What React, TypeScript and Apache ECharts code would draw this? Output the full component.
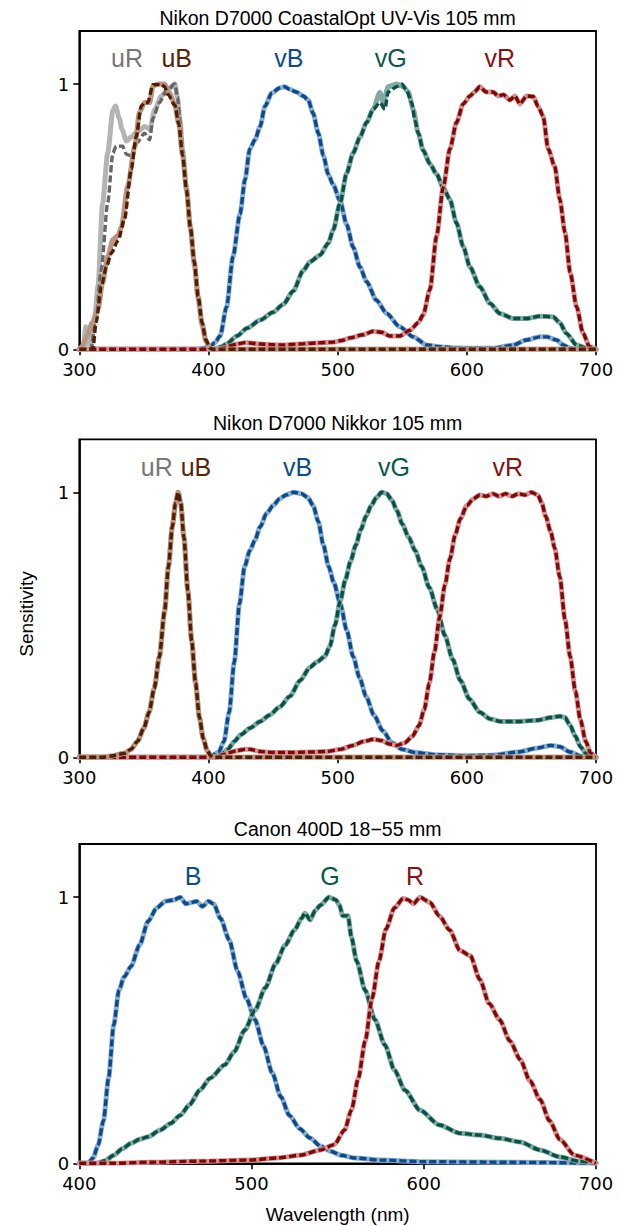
import React, { useEffect, useRef } from "react";
import * as echarts from "echarts";

type Pt = [number, number];

// ---------- Panel titles / axis texts ----------
const panelTitles = [
  "Nikon D7000 CoastalOpt UV-Vis 105 mm",
  "Nikon D7000 Nikkor 105 mm",
  "Canon 400D 18\u221255 mm",
];
const xRanges: [number, number][] = [[300, 700], [300, 700], [400, 700]];
const yTicks = [0, 1];
const yName = "Sensitivity";
const xName = "Wavelength (nm)";

// ---------- Panel 1: CoastalOpt (measured = solid, model = dashed) ----------
const p1_uR_meas: Pt[] = [[300,0],[303,0],[305,0.085],[306.5,0.02],[309,0.02],[312,0.12],[314.5,0.24],[318,0.55],[322,0.74],[326,0.9],[328,0.917],[331,0.87],[333,0.83],[336.5,0.785],[340,0.8],[345,0.82],[350.5,0.84],[354.5,0.83],[358.5,0.905],[363.5,0.955],[368.5,0.98],[374,1.0],[376,0.95],[378,0.86],[380,0.75],[383,0.61],[386,0.46],[389,0.32],[392,0.19],[395,0.09],[398,0.03],[401,0.005],[403,0],[700,0]];
const p1_uR_model: Pt[] = [[300,0],[309,0],[313,0.12],[317,0.3],[322,0.553],[326,0.74],[328.5,0.766],[333.5,0.766],[336.5,0.735],[340,0.73],[345,0.78],[350.5,0.815],[354.5,0.79],[357,0.87],[362,0.93],[367,0.97],[374,1.0],[376,0.95],[378,0.86],[380,0.75],[383,0.61],[386,0.46],[389,0.32],[392,0.19],[395,0.09],[398,0.03],[401,0.005],[403,0],[700,0]];
const p1_uB_meas: Pt[] = [[300,0],[302,0.01],[306,0.05],[310,0.1],[314.5,0.15],[318,0.25],[322,0.35],[326,0.413],[330,0.43],[332.5,0.46],[337.5,0.615],[343,0.766],[346.5,0.892],[350.5,0.93],[354.5,0.93],[357,0.993],[361,1.0],[366,1.0],[370,0.965],[374,0.92],[377,0.85],[380,0.73],[383,0.6],[386,0.46],[389,0.33],[392,0.2],[395,0.1],[398,0.035],[401,0.005],[403,0],[700,0]];
const p1_uB_model: Pt[] = [[300,0],[310.5,0],[313,0.1],[317,0.237],[321,0.31],[324.8,0.363],[330,0.41],[335,0.49],[340.3,0.68],[344,0.8],[348,0.917],[350.6,0.93],[353,0.93],[357,0.998],[363.5,0.998],[366,0.99],[368.7,0.96],[374,0.92],[377,0.85],[380,0.73],[383,0.6],[386,0.46],[389,0.33],[392,0.2],[395,0.1],[398,0.035],[401,0.005],[403,0],[700,0]];
const p1_vB: Pt[] = [[300,0],[390,0],[395,0.003],[401,0.01],[405,0.025],[409,0.05],[414,0.16],[419,0.35],[424.4,0.51],[428.3,0.64],[432,0.755],[436,0.79],[440,0.84],[443.7,0.916],[449,0.966],[455,0.985],[459,0.99],[463,0.98],[468,0.97],[473.4,0.955],[477.2,0.94],[481,0.89],[485,0.815],[489,0.73],[492.7,0.66],[496.6,0.62],[501.8,0.56],[507,0.47],[512,0.385],[517.3,0.31],[522.4,0.255],[530,0.185],[538,0.135],[548,0.085],[558.5,0.047],[569,0.016],[579,0.01],[590,0.005],[600,0.004],[620,0.004],[636,0.016],[646,0.035],[656.6,0.047],[662,0.047],[669.5,0.035],[675,0.015],[680,0.004],[685,0],[700,0]];
const p1_vG_meas: Pt[] = [[300,0],[404,0],[410,0.01],[414,0.02],[422,0.05],[430,0.08],[440,0.11],[450,0.14],[458,0.17],[465.6,0.22],[473.4,0.297],[478.6,0.33],[486.3,0.355],[492.7,0.4],[496.6,0.45],[501.8,0.55],[507,0.665],[512,0.74],[517.3,0.8],[522.4,0.855],[527.5,0.905],[532.7,0.968],[535.3,0.93],[539.1,0.99],[545.7,1.0],[550.9,0.99],[554.7,0.97],[558.5,0.905],[562.4,0.815],[566.2,0.75],[571.4,0.7],[576.6,0.66],[581.7,0.61],[586.9,0.565],[592,0.476],[597.2,0.388],[602.4,0.31],[610,0.236],[618,0.173],[625.6,0.135],[636,0.116],[646,0.116],[656.6,0.125],[667,0.122],[672,0.1],[677,0.06],[685,0.016],[692.7,0.004],[700,0]];
const p1_vG_model: Pt[] = [[300,0],[404,0],[410,0.01],[414,0.02],[422,0.05],[430,0.08],[440,0.11],[450,0.14],[458,0.17],[465.6,0.22],[473.4,0.297],[478.6,0.33],[486.3,0.355],[492.7,0.4],[496.6,0.45],[501.8,0.55],[507,0.665],[512,0.74],[517.3,0.8],[522.4,0.855],[527.5,0.905],[532.7,0.93],[536.6,0.905],[539.1,0.97],[545.7,0.99],[549.6,1.0],[553.5,0.975],[557.3,0.93],[560,0.86],[562.4,0.815],[566.2,0.75],[571.4,0.7],[576.6,0.66],[581.7,0.61],[586.9,0.565],[592,0.476],[597.2,0.388],[602.4,0.31],[610,0.236],[618,0.173],[625.6,0.135],[636,0.116],[646,0.116],[656.6,0.125],[667,0.122],[672,0.1],[677,0.06],[685,0.016],[692.7,0.004],[700,0]];
const p1_vR: Pt[] = [[300,0],[404,0],[410,0.004],[414,0.008],[418,0.015],[422,0.02],[428,0.025],[432,0.024],[440,0.02],[450,0.017],[458,0.016],[470,0.02],[484,0.024],[496.6,0.027],[503,0.033],[509.5,0.043],[519.8,0.055],[527.5,0.068],[534,0.064],[540.5,0.05],[548,0.05],[556,0.072],[562.4,0.1],[566.2,0.13],[571.4,0.225],[576.6,0.427],[581.7,0.61],[586.9,0.755],[592,0.855],[597.2,0.925],[602.4,0.955],[606,0.97],[610,0.99],[615,0.97],[620.4,0.97],[624.3,0.955],[628.2,0.96],[633.3,0.94],[637.2,0.955],[641.1,0.925],[646.3,0.955],[651.4,0.953],[655.3,0.915],[659,0.88],[663,0.755],[668,0.69],[672,0.565],[676,0.44],[680,0.29],[685,0.16],[690,0.06],[695,0.01],[700,0]];

// ---------- Panel 2: Nikkor ----------
const p2_u: Pt[] = [[300,0],[318,0],[325,0.005],[335,0.015],[340,0.03],[345,0.06],[350,0.11],[354,0.17],[358,0.26],[362,0.38],[366,0.55],[369,0.72],[372,0.87],[374.5,0.96],[376.5,1.0],[378.5,0.96],[381,0.83],[384,0.63],[387,0.44],[390,0.28],[393,0.15],[396,0.07],[399,0.025],[402,0.005],[405,0],[700,0]];
const p2_vB: Pt[] = [[300,0],[395,0],[402,0.005],[408,0.02],[412,0.06],[416,0.17],[420,0.36],[424,0.58],[428,0.72],[432,0.78],[436,0.82],[440,0.87],[445,0.92],[450,0.95],[455,0.975],[460,0.99],[466,1.0],[472,0.995],[477,0.98],[481,0.95],[485,0.89],[489,0.8],[493,0.72],[497,0.66],[502,0.58],[507,0.48],[512,0.38],[517,0.3],[522,0.23],[528,0.16],[535,0.1],[542,0.055],[550,0.03],[560,0.018],[575,0.01],[600,0.006],[620,0.008],[640,0.02],[655,0.035],[665,0.045],[672,0.04],[680,0.02],[688,0.005],[695,0],[700,0]];
const p2_vG: Pt[] = [[300,0],[405,0],[410,0.01],[415,0.03],[420,0.06],[425,0.085],[432,0.11],[440,0.135],[447.5,0.16],[455,0.19],[463,0.23],[471,0.29],[478.6,0.34],[484,0.36],[490,0.38],[494,0.42],[498,0.5],[502,0.59],[506,0.67],[510,0.74],[514,0.8],[518,0.86],[522,0.91],[526,0.95],[530,0.98],[534,1.0],[538,0.995],[542,0.97],[546,0.93],[550,0.88],[555,0.83],[560,0.78],[565,0.72],[571,0.64],[577,0.56],[583,0.46],[589,0.37],[595,0.29],[602,0.22],[610,0.17],[618,0.145],[626,0.135],[640,0.135],[655,0.14],[665,0.15],[672,0.155],[676,0.15],[680,0.12],[684,0.08],[688,0.04],[692,0.015],[697,0],[700,0]];
const p2_vR: Pt[] = [[300,0],[405,0],[411,0.01],[416,0.018],[422,0.025],[428,0.03],[432,0.03],[440,0.022],[450,0.018],[465,0.018],[480,0.02],[492,0.022],[502,0.03],[512,0.045],[520,0.06],[528,0.068],[534,0.063],[540,0.05],[546,0.045],[552,0.055],[558,0.08],[563,0.12],[567,0.18],[571,0.28],[575,0.4],[579,0.53],[583,0.65],[587,0.75],[591,0.84],[595,0.9],[600,0.95],[605,0.975],[610,0.99],[615,0.985],[620,0.995],[625,0.985],[630,0.995],[635,0.985],[640,0.995],[645,0.99],[650,1.0],[655,0.99],[658,0.96],[661,0.91],[665,0.85],[668,0.79],[672,0.68],[676,0.52],[680,0.38],[684,0.25],[688,0.14],[692,0.06],[696,0.015],[700,0]];

// ---------- Panel 3: Canon ----------
const p3_B: Pt[] = [[400,0],[405,0],[408,0.02],[411,0.07],[414,0.16],[417,0.32],[420,0.52],[423,0.65],[426,0.7],[430,0.74],[435,0.82],[440,0.91],[445,0.96],[450,0.985],[455,0.99],[458.5,1.0],[462,0.975],[465,0.98],[468,0.985],[471.5,0.965],[475,0.985],[478,0.975],[482,0.92],[487,0.84],[492,0.72],[497,0.62],[502,0.54],[507,0.44],[512,0.34],[517,0.25],[522,0.18],[528,0.13],[534,0.095],[540,0.065],[546,0.045],[552,0.03],[560,0.02],[575,0.012],[600,0.006],[650,0.004],[700,0]];
const p3_G: Pt[] = [[400,0],[410,0],[415,0.01],[420,0.03],[425,0.055],[430,0.075],[435,0.09],[440,0.1],[447,0.125],[453,0.15],[458.5,0.18],[464,0.22],[470,0.275],[476,0.32],[484.5,0.37],[490,0.42],[496,0.5],[502,0.575],[508,0.66],[514,0.75],[519.5,0.82],[525,0.877],[529,0.92],[531,0.94],[534,0.915],[537,0.95],[540,0.97],[545,1.0],[549,0.99],[551,0.97],[553,0.93],[556,0.93],[558,0.85],[561,0.76],[566,0.65],[571.6,0.54],[577.4,0.445],[583,0.35],[589,0.275],[597.8,0.2],[609,0.144],[621,0.113],[632.6,0.106],[644,0.094],[656,0.08],[667.5,0.05],[679,0.024],[690,0.008],[700,0]];
const p3_R: Pt[] = [[400,0],[420,0],[441,0.004],[470,0.008],[499,0.012],[515,0.02],[528,0.03],[540,0.05],[548,0.07],[554,0.125],[558,0.2],[562,0.32],[566,0.46],[570,0.62],[574,0.76],[578,0.88],[583,0.96],[588,0.995],[591,0.99],[594,0.975],[597.8,1.0],[603.6,0.98],[609,0.93],[615,0.877],[621,0.8],[627,0.78],[632.6,0.69],[638,0.6],[644,0.54],[650,0.46],[656,0.39],[661.6,0.31],[667.5,0.24],[673,0.16],[679,0.09],[687.6,0.03],[700,0]];

// ---------- Channel labels (name, wavelength anchor, height anchor) ----------
const p1_labels: [string, number, number][] = [["uR",337,1.1],["uB",375.4,1.1],["vB",462.3,1.1],["vG",541,1.1],["vR",625.6,1.1]];
const p2_labels: [string, number, number][] = [["uR",360,1.095],["uB",390.3,1.095],["vB",468.9,1.095],["vG",543.6,1.095],["vR",631.8,1.095]];
const p3_labels: [string, number, number][] = [["B",466,1.08],["G",545.6,1.08],["R",595,1.08]];

const COLORS: Record<string, { light: string; dark: string; text: string }> = {
  uR: { light: "#b4b4b4", dark: "#666666", text: "#777777" },
  uB: { light: "#b89482", dark: "#561c00", text: "#5a2404" },
  vB: { light: "#8aadd0", dark: "#0a4a8c", text: "#0b4c8c" },
  vG: { light: "#82a9a2", dark: "#065247", text: "#08584d" },
  vR: { light: "#d09494", dark: "#850505", text: "#8a0f0f" },
};
COLORS.B = COLORS.vB;
COLORS.G = COLORS.vG;
COLORS.R = COLORS.vR;

const GRID_LEFT = 79.3;
const GRID_W = 516.7;
const grids = [
  { top: 31, height: 318.3 },
  { top: 439.3, height: 318 },
  { top: 844, height: 319.3 },
];
const FONT_SANS = "Liberation Sans, Arial, sans-serif";

function pairSeries(key: string, meas: Pt[], model: Pt[], idx: number) {
  const c = COLORS[key];
  return [
    {
      type: "line", name: key + " measured", xAxisIndex: idx, yAxisIndex: idx,
      data: meas, showSymbol: false, symbol: "none", smooth: 0.25, smoothMonotone: "x",
      lineStyle: { color: c.light, width: 5, cap: "round", join: "round" }, silent: true,
    },
    {
      type: "line", name: key + " model", xAxisIndex: idx, yAxisIndex: idx,
      data: model, showSymbol: false, symbol: "none", smooth: 0.25, smoothMonotone: "x",
      lineStyle: { color: c.dark, width: 3.4, type: [7, 3], cap: "butt", join: "round" }, silent: true,
    },
  ];
}

function labelSeries(labels: [string, number, number][], idx: number) {
  return {
    type: "scatter", xAxisIndex: idx, yAxisIndex: idx, symbolSize: 1, silent: true,
    itemStyle: { color: "rgba(0,0,0,0)", opacity: 1 }, z: 10,
    data: labels.map(([n, x, y]) => ({
      name: n, value: [x, y],
      label: { color: COLORS[n].text },
    })),
    label: {
      show: true, position: "inside", formatter: "{b}", fontSize: 25, opacity: 1,
      fontFamily: FONT_SANS, textBorderWidth: 0, textBorderColor: "transparent",
      textShadowBlur: 0,
    },
  };
}

export default function App() {
  const ref = useRef<HTMLDivElement>(null);
  useEffect(() => {
    if (!ref.current) return;
    const chart = echarts.init(ref.current, undefined, { renderer: "svg" });
    const axisLineStyle = { color: "#000", width: 1.8 };
    const option: any = {
      animation: false,
      backgroundColor: "#fff",
      grid: grids.map((g) => ({
        left: GRID_LEFT, width: GRID_W, top: g.top, height: g.height,
        show: true, borderColor: "#000", borderWidth: 1.8, backgroundColor: "transparent",
      })),
      xAxis: xRanges.map(([mn, mx], i) => ({
        type: "value", gridIndex: i, min: mn, max: mx, interval: 100,
        axisLine: { show: true, lineStyle: axisLineStyle, onZero: false },
        axisTick: { show: true, inside: false, length: 6, lineStyle: { color: "#000", width: 1.6 } },
        axisLabel: { color: "#000", fontSize: 18, fontFamily: "DejaVu Sans", margin: 11 },
        splitLine: { show: false },
      })),
      yAxis: grids.map((_, i) => ({
        type: "value", gridIndex: i, min: 0, max: 1.2, interval: 1,
        axisLine: { show: true, lineStyle: axisLineStyle, onZero: false },
        axisTick: { show: true, inside: false, length: 6, lineStyle: { color: "#000", width: 1.6 }, customValues: yTicks },
        axisLabel: { color: "#000", fontSize: 18, fontFamily: "DejaVu Sans", margin: 10, customValues: yTicks },
        splitLine: { show: false },
      })),
      series: [
        ...pairSeries("vB", p1_vB, p1_vB, 0),
        ...pairSeries("vG", p1_vG_meas, p1_vG_model, 0),
        ...pairSeries("vR", p1_vR, p1_vR, 0),
        ...pairSeries("uR", p1_uR_meas, p1_uR_model, 0),
        ...pairSeries("uB", p1_uB_meas, p1_uB_model, 0),
        labelSeries(p1_labels, 0),
        ...pairSeries("vB", p2_vB, p2_vB, 1),
        ...pairSeries("vG", p2_vG, p2_vG, 1),
        ...pairSeries("vR", p2_vR, p2_vR, 1),
        ...pairSeries("uR", p2_u, p2_u, 1),
        ...pairSeries("uB", p2_u, p2_u, 1),
        labelSeries(p2_labels, 1),
        ...pairSeries("B", p3_B, p3_B, 2),
        ...pairSeries("G", p3_G, p3_G, 2),
        ...pairSeries("R", p3_R, p3_R, 2),
        labelSeries(p3_labels, 2),
      ],
      graphic: [
        ...panelTitles.map((t, i) => ({
          type: "text", x: GRID_LEFT + GRID_W / 2, y: [17.5, 423, 828.5][i], silent: true,
          style: { text: t, fill: "#000", fontSize: 19.5, fontFamily: FONT_SANS, align: "center", verticalAlign: "middle" },
        })),
        {
          type: "text", x: 26, y: 614, rotation: Math.PI / 2, silent: true,
          style: { text: yName, fill: "#000", fontSize: 19, fontFamily: FONT_SANS, align: "center", verticalAlign: "middle" },
        },
        {
          type: "text", x: GRID_LEFT + GRID_W / 2, y: 1214, silent: true,
          style: { text: xName, fill: "#000", fontSize: 19, fontFamily: FONT_SANS, align: "center", verticalAlign: "middle" },
        },
      ],
    };
    chart.setOption(option);
    return () => chart.dispose();
  }, []);
  return (
    <div
      ref={ref}
      style={{ position: "absolute", left: 0, top: 0, width: 622, height: 1226, background: "#fff" }}
    />
  );
}
